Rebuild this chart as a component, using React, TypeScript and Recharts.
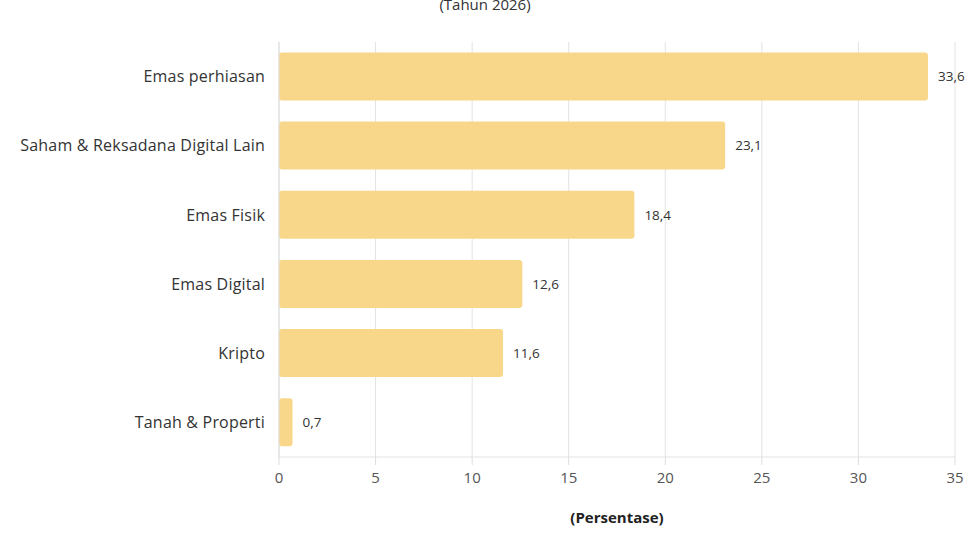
import { BarChart, Bar, XAxis, YAxis, CartesianGrid, LabelList, Label } from 'recharts';

const categories = [
  'Emas perhiasan',
  'Saham & Reksadana Digital Lain',
  'Emas Fisik',
  'Emas Digital',
  'Kripto',
  'Tanah & Properti',
];
const shares = [33.6, 23.1, 18.4, 12.6, 11.6, 0.7];
const xTicks = [0, 5, 10, 15, 20, 25, 30, 35];

const data = categories.map((name, i) => ({ name, value: shares[i] }));

const font = '"Open Sans", sans-serif';

export default function App() {
  return (
    <div
      style={{
        position: 'absolute',
        left: 0,
        top: 0,
        width: 968,
        height: 543,
        overflow: 'hidden',
        background: '#fff',
        fontFamily: font,
      }}
    >
      <div
        style={{
          position: 'absolute',
          left: 0,
          width: 970,
          top: -6,
          textAlign: 'center',
          fontSize: 15,
          color: '#333',
        }}
      >
        (Tahun 2026)
      </div>
      <BarChart
        width={968}
        height={543}
        data={data}
        layout="vertical"
        margin={{ top: 42, right: 13, left: 0, bottom: 16 }}
        barCategoryGap="15%"
        style={{ fontFamily: font }}
      >
        <CartesianGrid horizontal={false} stroke="#e3e3e3" />
        <XAxis
          type="number"
          domain={[0, 35]}
          ticks={xTicks}
          height={70}
          tickSize={8}
          tickMargin={7}
          tick={{ fontSize: 15, fill: '#555' }}
          tickLine={{ stroke: '#ddd' }}
          axisLine={{ stroke: '#e3e3e3' }}
        >
          <Label
            value="(Persentase)"
            position="insideBottom"
            offset={4}
            style={{ fontSize: 15, fontWeight: 700, fill: '#222' }}
          />
        </XAxis>
        <YAxis
          type="category"
          dataKey="name"
          width={279}
          tickLine={false}
          tickSize={0}
          tickMargin={14}
          axisLine={{ stroke: '#ddd' }}
          tick={{ fontSize: 16, fill: '#333', letterSpacing: 0.2 }}
        />
        <Bar dataKey="value" fill="#F8D78B" radius={3} isAnimationActive={false}>
          <LabelList
            dataKey="value"
            position="right"
            offset={10}
            formatter={(v: any) => String(v).replace('.', ',')}
            style={{ fontSize: 13.5, fill: '#333' }}
          />
        </Bar>
      </BarChart>
    </div>
  );
}
